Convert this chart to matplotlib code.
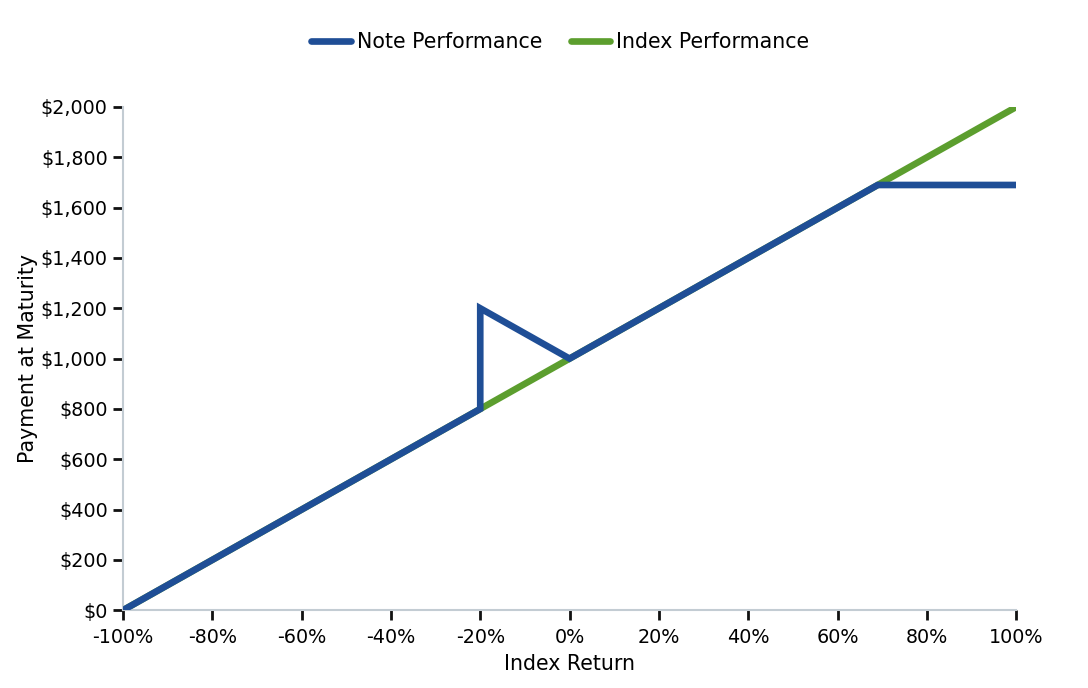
import matplotlib
matplotlib.use("Agg")
import matplotlib.pyplot as plt
from matplotlib.ticker import FuncFormatter

# note payoff and underlying index, index return in %
note_x = [-100, -20, -20, 0, 69, 100]
note_y = [0, 800, 1200, 1000, 1690, 1690]
index_x = [-100, 100]
index_y = [0, 2000]

x_ticks = list(range(-100, 101, 20))
y_ticks = list(range(0, 2001, 200))

blue = '#1f4e96'
green = '#5c9e2e'

fig = plt.figure(figsize=(10.88, 6.88), dpi=100)
fig.subplots_adjust(left=0.113, right=0.934, bottom=0.113, top=0.8445)
ax = fig.add_subplot(111)

ax.plot(index_x, index_y, color=green, lw=4.8, solid_capstyle='round',
        label='Index Performance', zorder=2)
ax.plot(note_x, note_y, color=blue, lw=4.8, solid_capstyle='round',
        solid_joinstyle='miter', label='Note Performance', zorder=3)

ax.set_xlim(-100, 100)
ax.set_ylim(0, 2000)
ax.set_xticks(x_ticks)
ax.set_yticks(y_ticks)
ax.xaxis.set_major_formatter(FuncFormatter(lambda v, p: '%d%%' % v))
ax.yaxis.set_major_formatter(FuncFormatter(lambda v, p: '${:,.0f}'.format(v)))

for s in ['top', 'right']:
    ax.spines[s].set_visible(False)
for s in ['left', 'bottom']:
    ax.spines[s].set_color('#c3ccd3')
    ax.spines[s].set_linewidth(1.5)

ax.tick_params(which='major', direction='out', length=7, width=2,
               color='#111111', labelsize=13.8, pad=4)
ax.tick_params(axis='x', pad=6)

ax.set_xlabel('Index Return', fontsize=14.8, labelpad=5)
ax.set_ylabel('Payment at Maturity', fontsize=14.8, labelpad=2)

h, l = ax.get_legend_handles_labels()
fig.legend(h[::-1], l[::-1], loc='center', bbox_to_anchor=(0.515, 0.939), ncol=2,
           frameon=False, fontsize=14.8, handlelength=1.9, handletextpad=0.3,
           columnspacing=1.4)

fig.savefig('out.png', dpi=100)
